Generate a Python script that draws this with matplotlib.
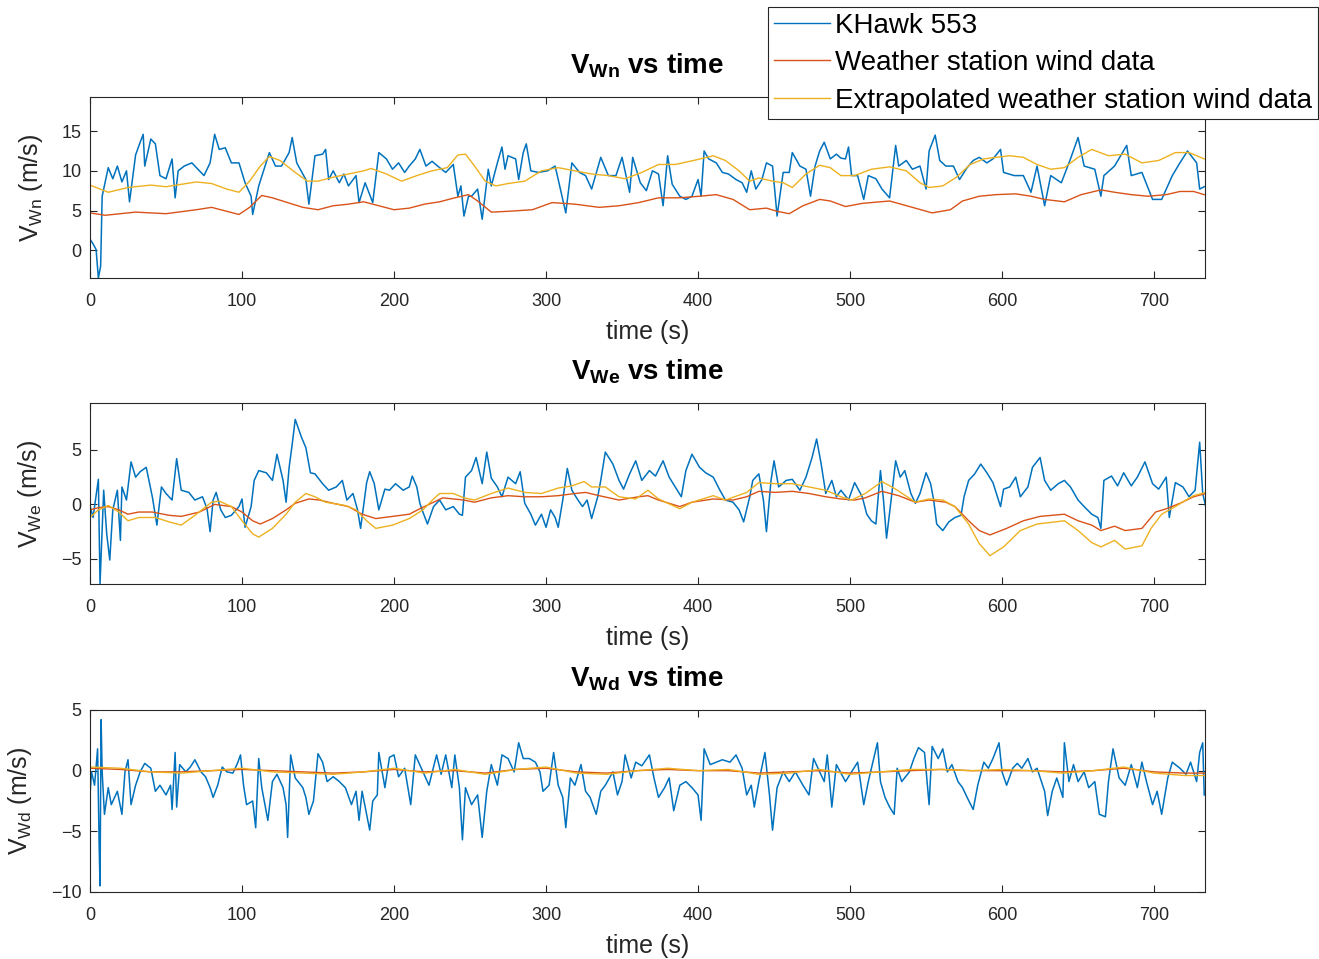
import matplotlib
matplotlib.use('Agg')
import matplotlib.pyplot as plt

# ---- data (time in s, wind in m/s) ----
# V_Wn
wn_khawk_t = [0, 2, 4, 5.5, 7, 8, 12, 15, 18, 21, 24, 26, 30, 33, 35, 36, 40, 43, 46, 50, 54, 56, 58, 62, 67, 71, 75, 79, 82, 85,
              89, 93, 98, 102, 106, 107, 111, 115, 118, 122, 126, 131, 133, 136, 142, 144, 148, 153, 155, 157, 160, 164, 167, 170,
              175, 177, 181, 186, 190, 195, 199, 203, 207, 210, 214, 217, 221, 225, 230, 234, 239, 242, 244, 246, 249, 251, 255,
              258, 262, 264, 268, 271, 273, 275, 280, 282, 285, 287, 290, 295, 301, 306, 308, 313, 317, 322, 326, 330, 336, 341,
              346, 350, 355, 357, 362, 366, 370, 374, 377, 380, 383, 388, 392, 396, 400, 402, 404, 407, 412, 416, 420, 425, 429,
              432, 435, 438, 442, 445, 449, 452, 456, 460, 462, 467, 471, 474, 477, 480, 483, 487, 491, 494, 497, 499, 501, 505,
              509, 512, 517, 521, 526, 530, 532, 537, 541, 546, 550, 552, 556, 559, 563, 568, 572, 577, 581, 585, 590, 594, 599,
              601, 608, 614, 619, 623, 628, 632, 639, 645, 650, 654, 661, 665, 667, 674, 682, 685, 692, 699, 705, 712, 717, 722,
              728, 730, 733]
wn_khawk_v = [1.4, 0.8, 0.1, -3.5, -2.0, 6.8, 10.4, 9.0, 10.6, 8.6, 10.0, 6.1, 12.0, 13.6, 14.6, 10.6, 14.0, 13.4, 9.4, 9.0, 11.5,
              6.6, 10.0, 10.6, 11.0, 10.2, 9.4, 11.0, 14.6, 12.7, 12.9, 11.0, 11.0, 8.5, 6.8, 4.5, 8.1, 10.5, 12.3, 10.6, 10.6,
              12.3, 14.2, 11.0, 8.9, 5.8, 11.9, 12.1, 12.7, 8.9, 10.0, 8.5, 9.6, 8.1, 9.4, 6.0, 8.5, 6.0, 12.3, 11.5, 10.2, 11.0,
              9.8, 10.6, 11.5, 12.7, 10.6, 11.2, 10.4, 9.8, 10.8, 6.8, 8.1, 4.3, 6.8, 6.8, 7.7, 3.9, 10.2, 8.1, 11.0, 13.0, 10.2,
              11.9, 11.5, 8.9, 12.3, 13.4, 10.0, 9.8, 10.0, 10.6, 8.9, 4.7, 11.0, 9.8, 9.4, 7.7, 11.7, 9.4, 9.4, 11.7, 7.3, 11.7,
              8.5, 7.5, 10.0, 9.6, 5.6, 11.9, 8.3, 6.8, 6.4, 6.8, 8.9, 6.8, 12.5, 11.5, 11.0, 9.8, 9.6, 8.9, 8.5, 7.3, 10.0, 7.7,
              8.9, 11.0, 10.6, 4.3, 9.8, 9.8, 12.3, 10.6, 10.2, 6.8, 10.6, 12.5, 13.6, 11.5, 12.1, 11.6, 11.5, 13.0, 9.4, 9.4,
              6.4, 9.4, 9.0, 7.7, 6.6, 13.2, 10.6, 11.3, 10.2, 10.6, 7.7, 12.5, 14.5, 11.3, 10.6, 10.6, 8.9, 10.4, 11.3, 11.7,
              11.0, 11.5, 12.7, 9.8, 9.4, 9.4, 7.3, 10.6, 5.6, 9.4, 8.5, 11.5, 14.2, 10.6, 10.2, 6.8, 9.4, 10.6, 13.2, 9.4, 9.8,
              6.4, 6.4, 9.4, 11.0, 12.5, 11.0, 7.7, 8.0]
wn_station_t = [0, 10, 30, 50, 70, 80, 90, 98, 105, 113, 120, 130, 140, 150, 160, 170, 180, 190, 200, 210, 220, 230, 240, 249,
                255, 264, 275, 291, 304, 319, 335, 348, 361, 374, 388, 401, 412, 423, 434, 445, 452, 460, 469, 480, 487, 497,
                508, 526, 541, 554, 566, 574, 585, 596, 609, 619, 628, 641, 652, 665, 674, 685, 696, 708, 717, 726, 733]
wn_station_v = [4.7, 4.4, 4.8, 4.6, 5.1, 5.4, 4.9, 4.5, 5.4, 6.9, 6.6, 6.0, 5.4, 5.1, 5.6, 5.8, 6.1, 5.6, 5.1, 5.3, 5.8, 6.1,
                6.6, 7.0, 6.2, 4.8, 4.9, 5.1, 6.0, 5.8, 5.4, 5.6, 6.0, 6.6, 6.6, 6.8, 7.0, 6.4, 5.1, 5.3, 4.9, 4.6, 5.6, 6.4,
                6.2, 5.5, 5.9, 6.2, 5.4, 4.7, 5.1, 6.2, 6.8, 7.0, 7.1, 6.8, 6.4, 6.1, 7.0, 7.6, 7.3, 7.0, 6.8, 7.0, 7.4, 7.4, 7.0]
wn_extrap_t = [0, 12, 25, 40, 50, 60, 70, 80, 90, 98, 105, 112, 118, 125, 135, 143, 150, 160, 170, 180, 185, 195, 205, 215,
               225, 235, 242, 247, 253, 260, 267, 275, 286, 297, 308, 319, 330, 341, 352, 363, 374, 385, 397, 410, 418, 427,
               434, 440, 449, 456, 462, 471, 480, 487, 494, 503, 514, 526, 537, 546, 552, 561, 570, 579, 588, 596, 605, 614,
               623, 632, 641, 650, 659, 670, 681, 692, 703, 714, 723, 733]
wn_extrap_v = [8.2, 7.3, 7.9, 8.2, 8.0, 8.3, 8.6, 8.4, 7.7, 7.3, 8.7, 10.6, 11.8, 11.3, 9.8, 8.7, 8.7, 9.2, 9.6, 10.0, 10.3,
               9.6, 8.7, 9.4, 10.0, 10.4, 12.0, 12.1, 10.6, 8.7, 8.1, 8.4, 8.7, 10.0, 10.4, 10.0, 9.6, 9.4, 9.0, 9.8, 10.8,
               10.8, 11.3, 11.9, 11.3, 10.0, 8.7, 9.1, 8.7, 8.5, 7.9, 9.6, 10.7, 10.4, 9.4, 9.4, 10.2, 10.5, 10.0, 8.5, 7.9,
               8.1, 9.2, 10.8, 11.5, 11.7, 11.9, 11.7, 10.8, 10.2, 10.4, 11.7, 12.7, 11.9, 12.1, 11.0, 11.3, 12.3, 12.3, 11.5]

# V_We
we_khawk_t = [0, 2, 5.5, 6.6, 9, 11, 13, 15, 18, 20, 21, 24, 27, 30, 33, 37, 41, 44, 47, 50, 54, 57, 60, 65, 69, 74, 77, 79,
              81, 83, 86, 89, 93, 98, 100, 102, 106, 108, 111, 116, 120, 123, 127, 129, 131, 133, 135, 139, 142, 145, 148,
              153, 157, 162, 166, 169, 173, 176, 178, 182, 184, 187, 190, 194, 197, 201, 206, 210, 212, 215, 217, 219, 222,
              226, 230, 234, 239, 243, 245, 247, 251, 254, 258, 261, 264, 268, 271, 275, 280, 283, 286, 290, 293, 297, 300,
              303, 306, 308, 311, 314, 317, 321, 324, 327, 330, 334, 336, 339, 344, 348, 351, 355, 359, 363, 368, 372, 377,
              381, 385, 389, 392, 396, 401, 405, 410, 414, 418, 423, 427, 430, 434, 436, 440, 443, 445, 448, 450, 453, 458,
              462, 467, 471, 475, 478, 481, 484, 488, 491, 494, 499, 503, 508, 511, 514, 517, 520, 522, 524, 527, 530, 533,
              536, 540, 543, 546, 550, 553, 555, 557, 561, 565, 569, 573, 575, 578, 582, 586, 590, 594, 599, 601, 605, 609,
              612, 617, 620, 625, 628, 632, 637, 641, 645, 650, 654, 659, 663, 665, 667, 672, 676, 680, 685, 689, 694, 699,
              703, 708, 710, 714, 719, 723, 727, 730, 732, 734]
we_khawk_v = [-0.1, -1.2, 2.3, -7.3, 1.3, -2.7, -5.1, -0.5, 1.3, -3.3, 1.6, 0.4, 3.9, 2.5, 3.0, 3.4, 0.7, -1.9, 1.6, 1.0, 0.4,
              4.2, 1.3, 1.1, 0.4, 0.7, -0.4, -2.5, 0.4, 1.1, -0.5, -1.2, -1.0, -0.2, 0.5, -2.1, -0.2, 2.2, 3.1, 2.9, 2.2, 4.6,
              2.2, 0.2, 3.4, 5.5, 7.8, 6.2, 5.2, 2.9, 2.8, 1.9, 1.3, 1.6, 2.2, 0.4, 1.0, -0.5, -2.2, 2.0, 3.0, 1.9, -0.5, 1.4,
              1.3, 1.9, 1.3, 1.6, 2.6, 1.6, 0.1, -0.7, -1.8, -0.2, 0.4, -0.5, -0.2, -0.9, -1.0, 2.5, 3.1, 4.3, 1.9, 4.8, 2.4,
              1.6, 0.7, 2.5, 1.9, 3.0, 0.1, -0.9, -1.9, -0.9, -2.1, -0.5, -1.2, -2.1, 0.4, 3.3, 1.3, 0.4, -0.2, 0.4, -1.3, 0.7,
              2.2, 4.8, 3.7, 2.2, 1.4, 2.8, 4.0, 2.2, 3.1, 2.6, 4.0, 2.5, 1.6, 0.7, 3.1, 4.6, 3.4, 2.9, 2.5, 1.4, 0.4, 0.2,
              -0.5, -1.6, 0.7, 2.2, 2.8, 0.4, -2.5, 2.2, 4.0, 1.6, 2.2, 2.3, 1.3, 2.5, 4.3, 6.0, 3.7, 1.0, 2.2, 0.7, 1.3, 0.4,
              2.0, 0.7, -0.9, -1.5, -1.8, 3.1, 0.4, -3.1, 0.4, 4.0, 2.5, 3.1, 1.0, 0.1, 1.0, 2.9, 1.9, 0.4, -1.8, -2.4, -1.6,
              -1.2, -1.0, 0.7, 2.2, 2.8, 3.7, 2.9, 2.0, -0.2, 1.4, 1.6, 2.5, 0.7, 1.6, 3.4, 4.3, 2.2, 1.3, 1.9, 2.2, 1.6, 0.4,
              -0.2, -0.9, -1.2, -2.2, 2.2, 2.6, 1.7, 2.9, 1.7, 2.5, 3.9, 1.9, 1.4, 2.5, -1.2, 2.0, 1.6, 0.7, 1.3, 5.7, 1.0,
              -0.2]
we_station_t = [0, 5.5, 12, 19, 25, 32, 41, 52, 60, 72, 82, 93, 100, 107, 112, 120, 129, 135, 144, 151, 160, 170, 179, 188,
                199, 210, 217, 226, 232, 239, 246, 253, 264, 275, 286, 297, 308, 319, 326, 335, 348, 361, 367, 374, 388, 396,
                410, 423, 432, 440, 451, 462, 473, 484, 494, 503, 510, 521, 532, 543, 552, 563, 569, 578, 585, 592, 603, 614,
                625, 641, 650, 659, 665, 674, 681, 692, 701, 708, 717, 726, 734]
we_station_v = [-0.5, -0.3, -0.2, -0.5, -0.9, -0.7, -0.7, -1.0, -1.1, -0.7, 0.0, -0.2, -0.7, -1.5, -1.8, -1.3, -0.5, 0.1, 0.5,
                0.4, 0.1, -0.2, -0.9, -1.3, -1.1, -0.9, -0.4, 0.2, 0.6, 0.5, 0.4, 0.2, 0.6, 0.8, 0.7, 0.7, 0.8, 1.0, 1.1, 0.8,
                0.4, 0.7, 0.8, 0.4, -0.2, 0.2, 0.5, 0.4, 0.7, 1.2, 1.1, 1.2, 1.0, 0.7, 0.5, 0.4, 0.6, 1.2, 0.8, 0.2, 0.4, 0.2,
                -0.2, -1.5, -2.4, -2.8, -2.2, -1.5, -1.1, -0.9, -1.5, -1.9, -2.4, -2.0, -2.4, -2.2, -0.7, -0.4, 0.1, 0.7, 1.0]
we_extrap_t = [0, 5.5, 12, 19, 25, 32, 43, 52, 60, 69, 80, 85, 93, 100, 107, 111, 120, 129, 135, 142, 148, 155, 168, 175,
               182, 188, 199, 210, 219, 226, 230, 239, 246, 253, 264, 275, 286, 297, 308, 317, 325, 330, 339, 348, 359, 367,
               374, 388, 396, 410, 418, 432, 440, 451, 462, 473, 484, 494, 501, 510, 521, 530, 543, 552, 561, 569, 578, 585,
               592, 601, 612, 623, 641, 650, 659, 665, 674, 681, 692, 698, 705, 714, 721, 726, 734]
we_extrap_v = [-1.2, -0.5, -0.1, -0.7, -1.5, -1.2, -1.2, -1.6, -1.9, -1.0, 0.2, 0.3, -0.2, -1.5, -2.7, -3.0, -2.2, -0.9, 0.2,
               1.0, 0.7, 0.2, -0.1, -0.5, -1.5, -2.2, -1.9, -1.3, -0.5, 0.5, 1.0, 1.0, 0.6, 0.4, 1.0, 1.5, 1.1, 1.0, 1.5, 1.7,
               2.1, 1.6, 1.6, 0.7, 0.5, 1.3, 0.5, -0.4, 0.2, 0.8, 0.4, 1.1, 2.0, 1.9, 1.9, 1.6, 1.3, 0.7, 0.4, 1.0, 2.1, 1.4,
               0.2, 0.5, 0.4, -0.2, -1.8, -3.6, -4.7, -3.9, -2.4, -1.8, -1.5, -2.4, -3.5, -3.9, -3.3, -4.1, -3.8, -2.2, -0.9,
               -0.2, 0.4, 0.8, 1.1]

# V_Wd
wd_khawk_t = [0, 1, 3, 5, 6, 6.6, 7.3, 8, 9.5, 12, 14, 18, 21, 23, 25, 27, 30, 33, 36, 40, 43, 46, 50, 53, 54, 56, 57, 59,
              63, 66, 69, 73, 76, 79, 81, 84, 87, 90, 94, 97, 99, 101, 103, 107, 109, 111, 113, 117, 120, 123, 127, 129,
              130, 132, 135, 140, 142, 144, 147, 150, 153, 156, 160, 164, 168, 172, 175, 177, 179, 184, 186, 189, 190, 194,
              197, 200, 203, 207, 211, 214, 219, 223, 228, 231, 234, 238, 240, 243, 245, 247, 251, 255, 258, 261, 264, 268,
              271, 275, 279, 282, 285, 289, 293, 296, 298, 302, 305, 308, 311, 313, 316, 319, 323, 326, 329, 333, 336, 339,
              344, 347, 350, 352, 356, 359, 363, 368, 371, 374, 378, 381, 384, 388, 392, 396, 400, 402, 404, 408, 412, 416,
              421, 425, 429, 432, 435, 437, 440, 444, 447, 449, 452, 456, 460, 464, 469, 473, 476, 480, 483, 485, 488, 491,
              497, 501, 505, 509, 512, 515, 518, 520, 523, 526, 529, 531, 534, 539, 542, 545, 549, 552, 554, 558, 561, 564,
              567, 571, 574, 577, 581, 584, 588, 591, 594, 598, 600, 603, 607, 610, 613, 617, 620, 623, 628, 630, 633, 636,
              640, 641, 644, 647, 650, 654, 657, 661, 664, 668, 670, 673, 677, 681, 685, 689, 692, 695, 699, 702, 705, 709,
              712, 717, 721, 724, 728, 730, 732, 733]
wd_khawk_v = [-2.0, -0.1, -1.2, 1.8, -6.0, -9.5, 4.2, -0.1, -3.6, -1.4, -2.8, -1.7, -3.6, -0.1, 0.9, -2.8, -1.2, -0.1, 0.6,
              0.2, -1.7, -1.2, -2.0, -1.2, -3.2, 1.5, -3.0, 0.5, -0.1, 0.3, 0.9, -0.1, -0.5, -1.4, -2.2, -1.2, 0.3, -0.1, -0.2,
              0.6, 1.3, -1.2, -2.8, -2.5, -4.7, 1.0, -1.4, -4.1, -0.9, -0.3, -1.4, -2.8, -5.5, 1.3, -0.6, -1.4, -2.2, -3.6,
              -2.5, 1.4, 0.7, -0.9, -0.5, -0.9, -1.4, -2.8, -1.7, -4.1, -1.7, -4.9, -2.5, -2.0, 1.5, -1.4, 1.1, 1.3, -0.5,
              0.2, -2.8, 1.3, -0.1, -1.2, 1.3, -0.3, 1.3, -1.4, 1.3, -1.4, -5.7, -1.4, -2.8, -2.0, -5.5, -1.7, 0.5, -1.2,
              1.3, 1.0, -0.1, 2.3, 1.0, 1.0, 0.7, -0.1, -1.7, -1.2, 1.5, -1.2, -2.2, -4.7, -0.6, -1.2, 0.5, -1.7, -2.2, -3.6,
              -1.7, -1.2, -0.1, -2.0, -0.9, 1.3, -0.6, 0.7, 0.4, 1.3, -0.6, -2.2, -1.4, -0.6, -3.3, -1.2, -0.9, -1.4, -2.0,
              -4.1, 1.8, 0.5, 0.7, 0.9, 0.7, 1.3, 0.2, -2.0, -1.2, -3.0, -0.9, 1.5, -2.0, -4.9, -1.4, -0.1, -0.9, -0.1,
              -1.2, -2.0, 1.0, -0.1, -0.9, 1.3, -3.0, 0.5, -0.9, -0.1, 0.7, -2.8, -0.9, 0.7, 2.3, -0.9, -2.2, -3.0, -3.6,
              0.2, -0.9, -0.1, 1.0, 1.9, 1.5, -2.8, 2.0, 1.0, 1.8, -0.1, 0.5, -0.9, -1.4, -2.2, -3.2, -1.2, 0.7, 0.2, 1.0,
              2.3, -0.1, -1.2, 0.2, 0.6, 0.2, 1.0, -0.1, 0.2, -1.7, -3.7, -1.7, -0.6, -2.2, 2.3, -0.9, 0.5, -0.9, -0.1,
              -1.4, -0.9, -3.6, -3.8, -0.9, 1.8, -0.6, -1.2, 0.5, -1.4, 0.7, -0.9, -2.8, -1.7, -3.6, -0.6, 0.7, 0.2, -0.3,
              0.7, -0.9, 1.5, 2.3, -2.0]
wd_station_t = [0, 20, 40, 60, 80, 100, 120, 140, 160, 180, 200, 220, 240, 260, 280, 300, 320, 340, 360, 380, 400, 420, 440,
                460, 480, 500, 520, 540, 560, 580, 600, 620, 640, 660, 680, 700, 720, 733]
wd_station_v = [0.2, 0.1, -0.1, -0.1, 0.0, 0.1, 0.0, -0.1, -0.2, -0.1, 0.1, -0.1, 0.0, -0.2, 0.1, 0.2, -0.1, -0.2, 0.0, 0.1,
                0.0, 0.0, -0.2, -0.1, 0.0, -0.2, -0.1, 0.0, 0.1, 0.0, 0.0, 0.0, -0.1, 0.0, 0.2, -0.1, -0.2, -0.2]
wd_extrap_t = wd_station_t
wd_extrap_v = [0.3, 0.2, -0.1, -0.2, 0.0, 0.2, -0.1, -0.2, -0.3, -0.1, 0.2, -0.2, 0.1, -0.3, 0.1, 0.3, -0.2, -0.3, 0.0, 0.2,
               0.0, 0.1, -0.3, -0.2, 0.1, -0.3, -0.1, 0.1, 0.1, 0.0, 0.1, 0.0, -0.2, 0.0, 0.3, -0.2, -0.4, -0.4]

series_labels = ['KHawk 553', 'Weather station wind data', 'Extrapolated weather station wind data']
panel_names = ['Wn', 'We', 'Wd']
x_ticks = [0, 100, 200, 300, 400, 500, 600, 700]
y_ticks = [[0, 5, 10, 15], [-5, 0, 5], [-10, -5, 0, 5]]
y_limits = [(-3.5, 19.3), (-7.3, 9.3), (-10, 5)]

panels = [
    (wn_khawk_t, wn_khawk_v, wn_station_t, wn_station_v, wn_extrap_t, wn_extrap_v),
    (we_khawk_t, we_khawk_v, we_station_t, we_station_v, we_extrap_t, we_extrap_v),
    (wd_khawk_t, wd_khawk_v, wd_station_t, wd_station_v, wd_extrap_t, wd_extrap_v),
]

plt.rcParams['font.family'] = ['Liberation Sans', 'DejaVu Sans']
plt.rcParams['mathtext.fontset'] = 'custom'
plt.rcParams['mathtext.rm'] = 'Liberation Sans'
plt.rcParams['mathtext.bf'] = 'Liberation Sans:bold'
plt.rcParams['mathtext.it'] = 'Liberation Sans:italic'

colors = ['#0072BD', '#D95319', '#EDB120']
edge = '#262626'

W, H = 1319, 959
fig = plt.figure(figsize=(W / 100, H / 100), dpi=100)

# axes boxes in pixels: (top, bottom)
boxes = [(97, 278), (403, 584), (710, 892)]
left, right = 90, 1205

axes = []
for i, (top, bot) in enumerate(boxes):
    ax = fig.add_axes([left / W, 1 - bot / H, (right - left) / W, (bot - top) / H])
    kt, kv, st, sv, et, ev = panels[i]
    ax.plot(kt, kv, color=colors[0], lw=1.1, label=series_labels[0])
    ax.plot(st, sv, color=colors[1], lw=1.0, label=series_labels[1])
    ax.plot(et, ev, color=colors[2], lw=1.0, label=series_labels[2])
    ax.set_xlim(0, 733.5)
    ax.set_ylim(*y_limits[i])
    ax.set_xticks(x_ticks)
    ax.set_yticks(y_ticks[i])
    ax.tick_params(direction='in', top=True, right=True, length=5, width=0.8,
                   labelsize=13, colors=edge, pad=6)
    ax.tick_params(axis='x', pad=11)
    for s in ax.spines.values():
        s.set_color(edge)
        s.set_linewidth(0.8)
    name = panel_names[i]
    ax.set_title('V$_{\\mathbf{%s}}$ vs time' % name, fontsize=20, fontweight='bold', pad=17, color='black')
    ax.set_xlabel('time (s)', fontsize=18, labelpad=7, color=edge)
    ax.set_ylabel('V$_{\\mathrm{%s}}$ (m/s)' % name, fontsize=18, labelpad=12, color=edge)
    axes.append(ax)

handles, labels = axes[0].get_legend_handles_labels()
leg = fig.legend(handles, labels, loc='upper right', bbox_to_anchor=(1318 / W, 1 - 7 / H),
                 fontsize=20, frameon=True, fancybox=False, framealpha=1, edgecolor=edge,
                 handlelength=2.05, handletextpad=0.18, labelspacing=0.42, borderpad=0.2,
                 borderaxespad=0)
leg.get_frame().set_linewidth(0.8)
for line in leg.get_lines():
    line.set_linewidth(1.0)

fig.savefig('out.png', dpi=100)
